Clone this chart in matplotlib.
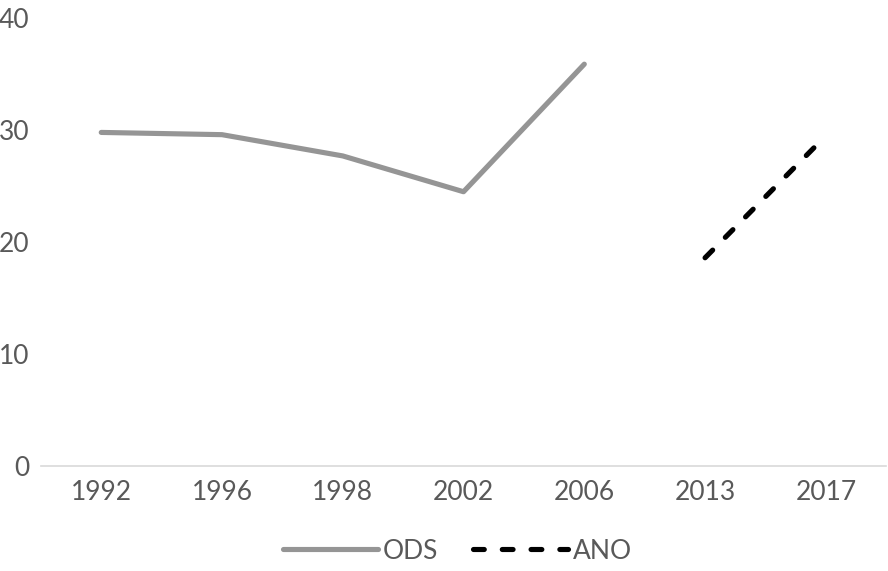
import numpy as np
import matplotlib.pyplot as plt

plt.rcParams['font.family'] = ['Lato', 'DejaVu Sans']

years = ['1992', '1996', '1998', '2002', '2006', '2013', '2017']
ods = [29.8, 29.6, 27.7, 24.5, 35.9, np.nan, np.nan]
ano = [np.nan, np.nan, np.nan, np.nan, np.nan, 18.6, 29.5]

fig = plt.figure(figsize=(8.88, 5.71), dpi=100)
ax = fig.add_axes([0.046, 0.184, 0.952, 0.784])

x = np.arange(len(years))
ax.plot(x, ods, color='#959595', lw=3.7, solid_capstyle='round', label='ODS')
ax.plot(x, ano, color='black', lw=3.7, ls=(0, (2.1, 3.5)), dash_capstyle='round', label='ANO')

ax.set_xlim(-0.5, 6.5)
ax.set_ylim(0, 40)
ax.set_yticks([0, 10, 20, 30, 40])
ax.set_xticks(x)
ax.set_xticklabels(years)
for s in ['top', 'right', 'left']:
    ax.spines[s].set_visible(False)
ax.spines['bottom'].set_color('#d9d9d9')
ax.spines['bottom'].set_linewidth(1.2)
ax.tick_params(axis='both', length=0, labelsize=19, colors='#595959')
ax.tick_params(axis='x', pad=10)
ax.tick_params(axis='y', pad=8)

fig.legend(loc='center', bbox_to_anchor=(0.515, 0.035), ncol=2, frameon=False,
           fontsize=19, labelcolor='#595959', handlelength=3.6, handletextpad=0.2,
           columnspacing=1.3)

plt.savefig('out.png', dpi=100)
